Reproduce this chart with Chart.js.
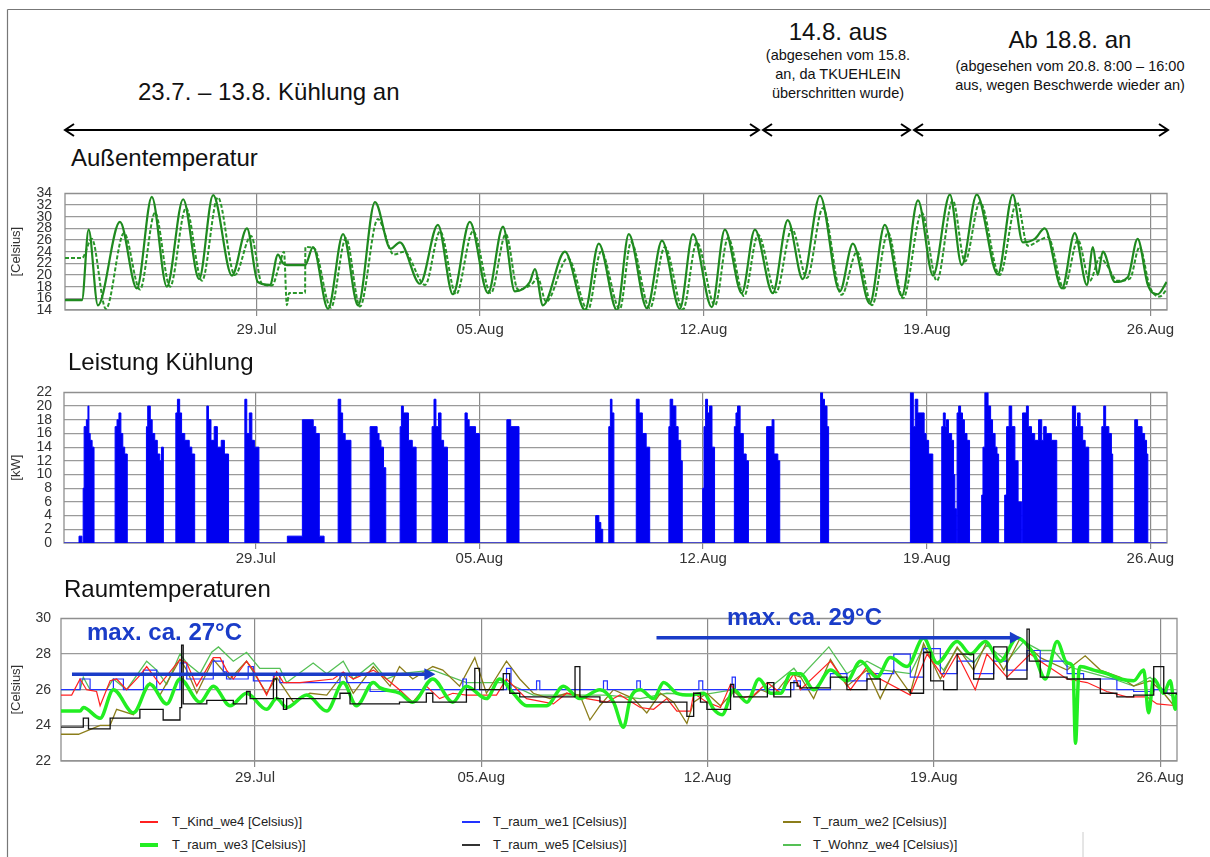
<!DOCTYPE html>
<html lang="de">
<head>
<meta charset="UTF-8">
<title>Kühlung – Außentemperatur, Leistung, Raumtemperaturen</title>
<script src="https://cdn.jsdelivr.net/npm/chart.js@4"></script>
<style>
  body { margin: 0; background: #fff; font-family: "Liberation Sans", Arial, sans-serif; color: #111; }
  #page { position: relative; width: 1210px; height: 857px; overflow: hidden; }
  .abs { position: absolute; white-space: nowrap; line-height: 1; }
  .big { font-size: 24px; }
  .small { font-size: 14.5px; text-align: center; }
  .sect { font-size: 24px; }
  .maxlbl { font-size: 24px; font-weight: bold; color: #1a3cc8; }
  .leg { font-size: 13px; color: #222; }
  .sw { position: absolute; width: 18px; }
  canvas { position: absolute; left: 0; }
</style>
</head>
<body>
<div id="page">
  <!-- frame + period arrows -->
  <svg class="abs" style="left:0;top:0" width="1210" height="857">
    <line x1="7.5" y1="9.5" x2="1210" y2="9.5" stroke="#777" stroke-width="1.2"/>
    <line x1="7.5" y1="9.5" x2="7.5" y2="857" stroke="#777" stroke-width="1.2"/>
    <g stroke="#000" stroke-width="2" fill="none">
      <line x1="65" y1="130" x2="759" y2="130"/>
      <polyline points="74,124 65,130 74,136"/>
      <polyline points="750,124 759,130 750,136"/>
      <line x1="763" y1="130" x2="910" y2="130"/>
      <polyline points="772,124 763,130 772,136"/>
      <polyline points="901,124 910,130 901,136"/>
      <line x1="914" y1="130" x2="1168" y2="130"/>
      <polyline points="923,124 914,130 923,136"/>
      <polyline points="1159,124 1168,130 1159,136"/>
    </g>
    <line x1="1083" y1="832" x2="1083" y2="857" stroke="#ccc" stroke-width="1"/>
  </svg>

  <canvas id="c1" width="1210" height="173" style="top:172px"></canvas>
  <canvas id="c2" width="1210" height="200" style="top:372px"></canvas>
  <canvas id="c3" width="1210" height="190" style="top:600px"></canvas>

  <!-- Texte oben -->
  <div class="abs big" style="left:138px;top:80px">23.7. – 13.8. Kühlung an</div>
  <div class="abs big" style="left:738px;width:200px;text-align:center;top:20px">14.8. aus</div>
  <div class="abs small" style="left:738px;width:200px;top:48px">(abgesehen vom 15.8.</div>
  <div class="abs small" style="left:738px;width:200px;top:67px">an, da TKUEHLEIN</div>
  <div class="abs small" style="left:738px;width:200px;top:86px">überschritten wurde)</div>
  <div class="abs big" style="left:970px;width:200px;text-align:center;top:28px">Ab 18.8. an</div>
  <div class="abs small" style="left:920px;width:300px;top:59px">(abgesehen vom 20.8. 8:00 – 16:00</div>
  <div class="abs small" style="left:920px;width:300px;top:78px">aus, wegen Beschwerde wieder an)</div>

  <div class="abs sect" style="left:71px;top:146px">Außentemperatur</div>
  <div class="abs sect" style="left:68px;top:350px">Leistung Kühlung</div>
  <div class="abs sect" style="left:64px;top:577px">Raumtemperaturen</div>

  <div class="abs maxlbl" style="left:87px;top:620px">max. ca. 27°C</div>
  <div class="abs maxlbl" style="left:727px;top:605px">max. ca. 29°C</div>

  <!-- Legende -->
  <div class="sw" style="left:140px;top:821px;height:2px;background:#ff2020"></div>
  <div class="abs leg" style="left:172px;top:815px">T_Kind_we4 [Celsius)]</div>
  <div class="sw" style="left:462px;top:821px;height:2px;background:#2233ff"></div>
  <div class="abs leg" style="left:493px;top:815px">T_raum_we1 [Celsius)]</div>
  <div class="sw" style="left:783px;top:821px;height:2px;background:#8b7d1a"></div>
  <div class="abs leg" style="left:813px;top:815px">T_raum_we2 [Celsius)]</div>
  <div class="sw" style="left:140px;top:843px;height:4px;background:#22ee22"></div>
  <div class="abs leg" style="left:172px;top:838px">T_raum_we3 [Celsius)]</div>
  <div class="sw" style="left:462px;top:844px;height:2px;background:#333"></div>
  <div class="abs leg" style="left:493px;top:838px">T_raum_we5 [Celsius)]</div>
  <div class="sw" style="left:783px;top:844px;height:2px;background:#55c055"></div>
  <div class="abs leg" style="left:813px;top:838px">T_Wohnz_we4 [Celsius)]</div>
</div>

<script>
// x = Tage ab 23.7. 00:00
const dayTicks = [6, 13, 20, 27, 34];
const tickLabels = ['29.Jul', '05.Aug', '12.Aug', '19.Aug', '26.Aug'];

// Außentemperatur, zwei Fühler [Tag, °C]
const aussenA = [[0,15.7],[0.53,15.7],[0.74,27.8],[1.03,14.8],[1.72,29.1],[2.25,17.7],[2.72,33.4],[3.19,18.0],[3.70,33.0],[4.20,19.3],[4.64,33.7],[5.23,19.9],[5.70,28.0],[6.04,18.8],[6.42,18.3],[6.67,23.5],[6.83,22.0],[6.95,21.7],[7.52,21.7],[7.77,24.8],[8.24,14.2],[8.71,27.0],[9.18,14.8],[9.71,32.5],[10.2,24.5],[10.49,25.6],[11.12,18.5],[11.68,28.6],[12.15,16.7],[12.68,29.1],[13.25,16.9],[13.72,28.3],[14.09,17.2],[14.56,18.8],[14.72,21.0],[14.97,14.8],[15.66,24.0],[16.29,14.0],[16.72,25.4],[17.29,14.0],[17.66,27.0],[18.23,14.3],[18.70,25.9],[19.26,14.2],[19.67,27.0],[20.26,14.5],[20.67,27.8],[21.20,16.9],[21.61,27.8],[22.17,16.9],[22.64,29.4],[23.11,19.3],[23.65,33.6],[24.27,17.2],[24.68,25.4],[25.21,15.1],[25.68,28.6],[26.21,16.4],[26.72,32.8],[27.19,19.9],[27.72,33.8],[28.09,21.7],[28.56,33.8],[29.22,20.1],[29.69,33.8],[30.00,25.6],[30.38,26.2],[30.69,28.0],[31.23,17.7],[31.63,27.2],[32.01,18.3],[32.20,24.8],[32.35,20.0],[32.51,24.0],[32.89,18.8],[33.29,19.6],[33.60,26.2],[33.92,18.3],[34.23,16.7],[34.51,18.8]];
const aussenB = [[0,22.9],[0.53,22.9],[0.84,26.2],[1.28,14.2],[1.85,27.2],[2.35,17.5],[2.82,30.7],[3.29,18.0],[3.79,31.5],[4.29,19.0],[4.79,33.3],[5.32,20.0],[5.83,26.7],[6.17,18.5],[6.48,18.2],[6.73,22.0],[6.86,24.0],[6.95,14.8],[7.02,16.9],[7.52,16.9],[7.53,24.8],[7.80,24.6],[8.33,14.4],[8.80,26.3],[9.24,14.6],[9.80,29.6],[10.3,23.5],[10.62,24.0],[11.28,18.3],[11.75,27.5],[12.25,16.7],[12.78,27.5],[13.34,16.9],[13.81,27.0],[14.19,17.5],[14.63,18.5],[14.81,19.5],[15.07,15.4],[15.75,22.9],[16.38,14.0],[16.79,24.0],[17.38,14.2],[17.73,25.6],[18.32,14.3],[18.79,24.8],[19.36,14.1],[19.79,25.6],[20.36,14.8],[20.77,26.4],[21.27,16.4],[21.71,26.9],[22.27,17.0],[22.77,27.9],[23.24,19.5],[23.74,31.5],[24.33,16.6],[24.81,24.0],[25.28,14.8],[25.78,27.3],[26.25,16.0],[26.84,30.7],[27.31,19.0],[27.81,32.8],[28.19,22.3],[28.66,32.5],[29.28,20.0],[29.82,32.5],[30.16,25.0],[30.54,26.0],[30.79,26.5],[31.29,17.7],[31.73,26.0],[32.10,19.0],[32.42,23.0],[32.60,22.0],[32.98,19.0],[33.36,19.4],[33.66,24.8],[33.98,18.0],[34.29,16.3],[34.51,17.5]];

// Leistung Kühlung [Tag, kW], Wert gilt bis zum nächsten Punkt
const leistung = [[0,0],[0.47,1],[0.56,0],[0.60,8],[0.63,17],[0.70,18],[0.75,20],[0.78,16],[0.82,15],[0.88,14],[0.94,0],
  [1.60,17],[1.66,18],[1.72,19],[1.78,16],[1.84,14],[1.90,13],[1.98,0],
  [2.58,17],[2.62,20],[2.70,18],[2.76,16],[2.84,15],[2.92,13],[3.00,12],[3.05,14],[3.11,0],
  [3.50,19],[3.55,21],[3.62,19],[3.68,16],[3.78,15],[3.92,14],[4.00,13],[4.09,0],
  [4.47,20],[4.52,18],[4.60,15],[4.70,17],[4.80,14],[4.92,15],[5.02,13],[5.15,0],
  [5.66,21],[5.72,16],[5.80,19],[5.88,15],[5.96,14],[6.10,0],
  [6.99,1],[7.46,18],[7.80,17],[7.88,16],[7.99,1],[8.14,0],
  [8.58,21],[8.66,19],[8.72,16],[8.80,15],[8.98,0],
  [9.58,17],[9.80,16],[9.86,15],[9.92,14],[10.00,11],[10.07,0],
  [10.52,17],[10.56,20],[10.62,19],[10.78,15],[10.90,14],[11.02,0],
  [11.52,17],[11.58,21],[11.64,17],[11.72,19],[11.80,15],[11.88,14],[12.00,0],
  [12.55,19],[12.62,18],[12.68,17],[12.88,16],[13.00,0],
  [13.86,18],[13.98,17],[14.24,0],
  [16.64,4],[16.74,3],[16.80,2],[16.86,0],
  [17.05,17],[17.10,21],[17.15,19],[17.21,0],
  [17.91,21],[18.00,19],[18.10,16],[18.22,14],[18.33,0],
  [18.93,17],[18.97,21],[19.05,20],[19.15,17],[19.22,15],[19.30,12],[19.35,0],
  [19.99,8],[20.03,17],[20.08,21],[20.14,19],[20.20,20],[20.28,14],[20.36,0],
  [20.98,17],[21.03,19],[21.08,20],[21.16,16],[21.26,13],[21.35,12],[21.42,0],
  [21.99,17],[22.16,18],[22.22,13],[22.34,12],[22.40,0],
  [23.68,22],[23.74,21],[23.80,20],[23.88,17],[23.93,0],
  [26.49,22],[26.58,17],[26.64,21],[26.72,19],[26.92,16],[26.98,15],[27.06,13],[27.19,0],
  [27.47,17],[27.52,19],[27.58,17],[27.62,18],[27.68,16],[27.78,15],[27.84,10],[27.88,5],[27.93,0],
  [27.95,19],[28.00,20],[28.06,19],[28.12,18],[28.18,16],[28.26,15],[28.34,0],
  [28.72,7],[28.76,14],[28.82,22],[28.92,20],[29.00,18],[29.06,16],[29.14,14],[29.20,13],[29.25,0],
  [29.44,7],[29.50,17],[29.58,20],[29.66,17],[29.76,12],[29.86,6],[29.97,0],
  [30.00,19],[30.12,20],[30.18,17],[30.28,16],[30.38,15],[30.50,18],[30.60,15],[30.66,17],[30.74,16],[30.90,15],[31.07,0],
  [31.56,20],[31.66,17],[31.72,19],[31.80,17],[31.88,15],[31.96,14],[32.07,0],
  [32.48,17],[32.54,20],[32.60,17],[32.70,16],[32.78,13],[32.82,0],
  [33.51,18],[33.60,17],[33.74,16],[33.82,15],[33.88,13],[33.92,0],[34.51,0]];

// Raumtemperaturen [Tag, °C]
const tKindWe4 = [[0,25.7],[0.33,25.7],[0.59,26.6],[0.79,26.0],[1.10,25.9],[1.21,25.1],[1.52,26.5],[1.72,26.6],[2.03,26.0],[2.44,26.8],[2.65,27.3],[3.06,26.3],[3.68,27.7],[3.89,27.5],[4.20,26.2],[4.71,27.8],[4.92,27.8],[5.12,27.1],[5.33,26.6],[5.74,27.6],[5.95,27.1],[6.36,25.7],[6.67,27.0],[6.88,26.4],[7.39,26.4],[8.42,26.6],[8.73,27.0],[9.04,26.6],[9.66,27.1],[10.07,26.6],
  [10.47,26.0],[10.88,25.3],[11.30,26.2],[11.71,25.5],[12.12,25.8],[12.54,25.7],[13.47,25.7],[13.78,26.6],[14.40,25.5],[15.23,25.2],[15.64,25.8],[16.26,25.5],[16.88,25.3],[17.29,25.7],[17.92,25.0],[18.33,24.9],[18.74,25.5],[19.05,24.8],[19.47,24.8],[19.57,25.8],[19.98,25.3],[20.40,25.0],[20.71,26.3],[21.02,25.5],[21.43,25.7],[21.85,26.4],[22.26,25.8],[22.67,26.9],
  [22.87,26.0],[23.80,27.6],[24.42,26.0],[24.93,27.3],[25.34,26.6],[26.27,25.7],[26.79,28.0],[27.30,26.7],[27.72,28.0],[28.28,26.0],[28.64,28.0],[29.26,26.7],[29.98,28.0],[30.29,27.6],[31.12,26.6],[31.74,26.4],[32.35,25.9],[32.97,25.6],[33.59,25.6],[33.90,25.2],[34.52,25.1]];
const tRaumWe1 = [[0,26.0],[0.59,26.6],[0.90,26.0],[1.62,26.6],[1.93,26.0],[2.55,27.1],[2.96,26.0],[3.68,27.5],[3.89,26.6],[4.71,27.6],[5.02,27.0],[5.12,26.6],[5.79,27.3],[5.95,26.5],[6.57,26.9],[6.77,26.4],[8.63,26.9],[8.84,26.4],[9.56,25.9],
  [10.47,26.0],[12.43,26.6],[12.54,26.0],[13.78,27.2],[13.92,26.0],[14.71,26.5],[14.81,26.0],[16.78,26.5],[16.90,26.0],[17.81,26.5],[17.92,26.0],[19.73,26.5],[19.85,26.0],[20.76,26.7],[20.86,26.0],[22.67,26.5],
  [22.87,26.0],[23.80,26.9],[24.31,26.5],[24.93,26.9],[25.76,28.0],[26.27,26.7],[26.68,28.3],[27.20,26.9],[27.72,27.6],[28.23,26.9],[28.85,27.6],[29.26,27.1],[29.88,28.2],[30.29,27.6],[31.12,26.9],[31.63,26.6],[32.66,26.0],[33.18,25.9],[33.80,26.0],[34.21,25.8],[34.52,25.7]];
const tRaumWe2 = [[0,23.5],[0.54,23.5],[1.21,24.0],[1.52,24.0],[1.72,24.9],[2.24,24.6],[2.44,25.3],[2.75,26.4],[3.06,25.7],[3.68,27.7],[3.89,27.1],[4.20,25.8],[4.71,27.7],[5.23,26.6],[5.74,27.6],[6.36,25.8],[6.67,26.7],[7.19,25.3],[7.70,25.8],[8.22,25.7],[8.73,26.9],[9.04,25.8],[9.66,27.3],[10.18,26.2],
  [10.47,27.3],[10.88,26.6],[11.50,27.3],[11.81,27.1],[12.33,26.2],[12.80,27.8],[13.16,25.8],[13.78,27.6],[14.19,26.6],[14.61,25.8],[15.12,25.5],[15.64,25.8],[16.05,25.7],[16.36,24.3],[16.67,25.1],[17.09,26.0],[17.71,25.5],[18.12,24.7],[18.54,25.8],[18.95,25.3],[19.36,24.1],[19.57,25.3],[19.98,25.8],[20.40,25.1],[20.81,25.9],[21.22,25.3],[21.64,26.0],[22.05,25.7],[22.57,26.9],[22.88,26.7],
  [23.28,25.5],[23.80,27.7],[24.31,26.2],[24.93,27.1],[25.34,25.5],[25.76,27.1],[26.27,25.8],[26.68,28.6],[27.20,26.6],[27.72,28.4],[28.23,27.1],[28.64,28.7],[29.16,27.1],[29.67,28.9],[30.29,27.8],[31.12,27.1],[31.68,27.9],[32.15,27.1],[32.77,26.7],[33.18,26.2],[33.69,26.5],[34.11,25.8],[34.47,25.0]];
const tRaumWe3 = [[0,24.8],[0.59,24.8],[0.69,25.0],[1.21,24.4],[1.62,26.0],[2.24,24.7],[2.75,26.3],[3.27,25.2],[3.68,26.6],[4.30,25.3],[4.71,26.2],[5.23,25.1],[5.74,25.8],[6.36,24.9],[6.67,25.5],[6.98,25.0],[7.60,25.7],[8.22,24.8],[8.73,26.4],[9.14,25.1],[9.66,26.4],[9.87,26.1],[10.48,25.8],
  [10.88,25.3],[11.50,26.6],[12.12,25.3],[12.54,26.2],[13.16,25.5],[13.57,26.6],[13.99,25.8],[14.40,25.1],[15.02,25.1],[15.54,26.2],[16.05,25.5],[16.67,26.0],[17.09,25.3],[17.40,23.9],[17.61,25.5],[17.92,26.0],[18.33,25.5],[18.64,26.4],[19.05,25.8],[19.47,25.7],[19.88,25.8],[20.19,24.9],[20.45,24.6],[20.81,26.0],[21.22,25.3],[21.59,26.6],[21.95,25.8],[22.26,25.8],[22.57,26.9],[22.88,26.9],
  [23.28,26.0],[23.80,27.1],[24.31,26.5],[24.73,27.6],[25.24,26.7],[25.65,27.8],[26.17,27.3],[26.68,28.9],[27.10,27.5],[27.72,28.7],[28.13,28.0],[28.59,28.7],[29.06,27.6],[29.57,28.9],[30.09,28.0],[30.45,26.6],[30.81,28.7],[31.12,27.5],[31.30,27.3],[31.38,23.0],[31.48,27.0],[31.53,27.3],[31.94,27.1],[32.35,26.9],[32.77,26.6],[33.18,26.5],[33.49,27.1],[33.64,24.7],[33.80,26.6],[34.11,25.8],[34.31,26.5],[34.47,24.9],[34.52,25.8]];
const tRaumWe5 = [[0,23.9],[0.69,24.4],[0.85,23.8],[1.52,24.4],[2.44,24.9],[3.16,24.3],[3.68,25.0],[3.73,28.5],[3.78,25.2],[4.51,25.4],[5.33,25.2],[5.74,25.9],[5.85,25.5],[6.57,26.6],[6.67,25.5],[6.88,24.9],[6.98,25.5],[8.63,25.8],[8.94,25.2],
  [10.47,25.3],[11.30,25.8],[11.50,25.3],[12.54,26.0],[12.80,27.2],[12.95,26.0],[13.68,26.9],[13.88,25.8],[14.19,25.6],[15.90,27.3],[16.05,25.6],[16.67,25.3],[19.36,24.5],[19.57,25.8],[19.78,25.3],[19.98,24.9],[20.71,26.3],[20.81,25.6],[21.85,26.4],[22.05,25.6],[22.57,26.4],[22.77,26.2],
  [22.87,26.1],[23.80,26.7],[24.31,26.0],[24.93,26.6],[25.34,26.0],[26.27,25.8],[26.68,28.1],[26.90,26.5],[27.30,26.0],[27.72,28.0],[28.23,26.6],[28.85,28.4],[29.26,26.6],[29.88,29.4],[29.95,27.6],[30.29,26.7],[31.12,26.6],[32.15,25.8],[32.66,25.6],[33.18,25.7],[33.80,27.3],[34.11,25.8],[34.52,25.7]];
const tWohnzWe4 = [[0,26.0],[0.59,26.0],[0.69,26.7],[0.90,26.0],[1.41,26.0],[1.62,26.6],[2.03,26.0],[2.65,27.6],[2.96,27.1],[3.27,26.3],[3.68,28.0],[3.89,27.5],[4.30,26.9],[4.66,28.1],[4.87,28.4],[5.33,27.6],[5.74,28.1],[6.15,27.2],[6.77,27.2],[6.98,26.4],[7.80,27.5],[8.22,26.9],[8.73,27.6],[9.04,26.6],[9.66,27.5],[10.07,26.6],[10.48,26.9],
  [11.50,27.1],[12.54,26.4],[13.78,26.4],[14.61,25.7],[15.64,25.7],[16.88,25.7],[17.92,25.5],[18.74,25.8],[19.78,25.7],[20.81,26.0],[21.85,26.0],[22.67,27.2],
  [22.87,26.7],[23.75,28.4],[24.31,26.9],[24.93,27.6],[25.45,27.1],[26.27,26.9],[26.68,28.4],[27.30,27.1],[27.72,28.3],[28.23,27.5],[28.64,28.5],[29.26,27.6],[29.78,28.7],[30.29,28.2],[30.70,28.2],[31.12,27.3],[31.94,26.9],[32.56,26.6],[33.18,26.2],[33.69,26.7],[34.21,25.8],[34.52,25.5]];

// Pfeile "max. ca." [Tag von, Tag bis, °C]
const maxArrows = [[0.34, 11.58, 26.86], [18.42, 29.69, 28.92]];

Chart.defaults.font.family = '"Liberation Sans", Arial, sans-serif';
Chart.defaults.animation = false;

const pts = a => a.map(p => ({ x: p[0], y: p[1] }));

const framePlugin = {
  id: 'frame',
  beforeDatasetsDraw(chart) {
    const a = chart.chartArea, ctx = chart.ctx;
    ctx.save();
    ctx.strokeStyle = '#8f8f8f';
    ctx.lineWidth = 1.3;
    ctx.strokeRect(a.left, a.top, a.right - a.left, a.bottom - a.top);
    ctx.restore();
  }
};

const arrowPlugin = {
  id: 'maxArrows',
  afterDatasetsDraw(chart) {
    const ctx = chart.ctx, xs = chart.scales.x, ys = chart.scales.y;
    ctx.save();
    ctx.strokeStyle = ctx.fillStyle = '#1a3cc8';
    ctx.lineWidth = 3.5;
    maxArrows.forEach(([d0, d1, v]) => {
      const x0 = xs.getPixelForValue(d0), x1 = xs.getPixelForValue(d1), y = ys.getPixelForValue(v);
      ctx.beginPath(); ctx.moveTo(x0, y); ctx.lineTo(x1 - 8, y); ctx.stroke();
      ctx.beginPath(); ctx.moveTo(x1, y); ctx.lineTo(x1 - 11, y - 6); ctx.lineTo(x1 - 11, y + 6); ctx.closePath(); ctx.fill();
    });
    ctx.restore();
  }
};

function xAxis(h, pad) {
  return {
    type: 'linear', min: 0, max: 34.52,
    afterBuildTicks: s => { s.ticks = dayTicks.map(v => ({ value: v })); },
    afterFit: s => { s.height = h; },
    ticks: { callback: v => tickLabels[dayTicks.indexOf(v)], color: '#333', font: { size: 15 }, padding: pad, maxRotation: 0, autoSkip: false },
    grid: { color: '#8a8a8a', lineWidth: 1.2, tickLength: 6 },
    border: { display: false }
  };
}

function yAxis(min, max, title, w, pad) {
  return {
    min: min, max: max,
    afterFit: s => { s.width = w; },
    ticks: { stepSize: 2, autoSkip: false, color: '#333', font: { size: 14 }, padding: pad },
    grid: { color: '#9a9a9a', lineWidth: 1.2, drawTicks: false },
    border: { display: false },
    title: { display: true, text: title, color: '#333', font: { size: 13 }, padding: { top: 9, bottom: 0 } }
  };
}

function baseOptions(padTop, padRight, x, y) {
  return {
    responsive: false,
    devicePixelRatio: 1,
    layout: { padding: { top: padTop, right: padRight, left: 0, bottom: 0 } },
    plugins: { legend: { display: false }, tooltip: { enabled: false } },
    elements: { point: { radius: 0 } },
    scales: { x: x, y: y }
  };
}

// Außentemperatur
new Chart(document.getElementById('c1'), {
  type: 'line',
  data: {
    datasets: [
      { data: pts(aussenA), borderColor: '#1f8a1f', borderWidth: 2.2, cubicInterpolationMode: 'monotone' },
      { data: pts(aussenB), borderColor: '#2a962a', borderWidth: 2, borderDash: [4, 2], cubicInterpolationMode: 'monotone' }
    ]
  },
  options: baseOptions(12, 43, xAxis(35, 5), yAxis(14, 34, '[Celsius]', 65, 13)),
  plugins: [framePlugin]
});

// Leistung Kühlung
new Chart(document.getElementById('c2'), {
  type: 'line',
  data: {
    datasets: [
      { data: pts(leistung), stepped: true, fill: 'origin', borderColor: '#0000ff', backgroundColor: '#0000f0', borderWidth: 1 }
    ]
  },
  options: baseOptions(10, 43, xAxis(29, 1), yAxis(0, 22, '[kW]', 64, 12)),
  plugins: [framePlugin]
});

// Raumtemperaturen
new Chart(document.getElementById('c3'), {
  type: 'line',
  data: {
    datasets: [
      { data: pts(tRaumWe5), borderColor: '#111', borderWidth: 1.3, stepped: true },
      { data: pts(tRaumWe3), borderColor: '#22ee22', borderWidth: 3.5, cubicInterpolationMode: 'monotone' },
      { data: pts(tKindWe4), borderColor: '#ff2020', borderWidth: 1.2 },
      { data: pts(tRaumWe1), borderColor: '#2233ff', borderWidth: 1.2, stepped: true },
      { data: pts(tRaumWe2), borderColor: '#8b7d1a', borderWidth: 1.3 },
      { data: pts(tWohnzWe4), borderColor: '#55c055', borderWidth: 1.3 }
    ]
  },
  options: baseOptions(13, 33, xAxis(29, 2), yAxis(22, 30, '[Celsius]', 61, 10)),
  plugins: [framePlugin, arrowPlugin]
});
</script>
</body>
</html>
